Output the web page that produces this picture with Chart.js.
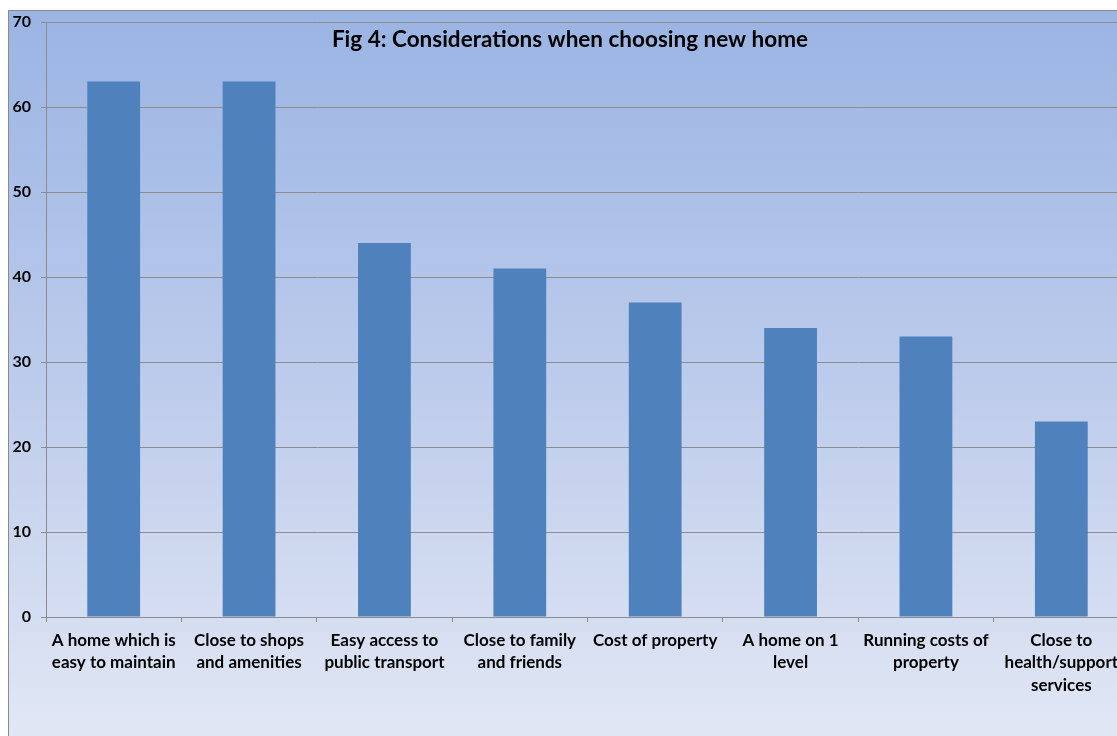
<!DOCTYPE html>
<html>
<head>
<meta charset="utf-8">
<script src="https://cdn.jsdelivr.net/npm/chart.js@4"></script>
<style>
  html, body { margin: 0; padding: 0; background: #fff; overflow: hidden; }
  #frame {
    position: absolute; left: 8px; top: 10px;
    border-left: 1px solid #8a8a8a; border-top: 1px solid #8a8a8a;
  }
  canvas { display: block; }
</style>
</head>
<body>
<div id="frame"><canvas id="homeChart" width="1130" height="725"></canvas></div>
<script>
// Data
const categories = [
    ["A home which is", "easy to maintain"],
    ["Close to shops", "and amenities"],
    ["Easy access to", "public transport"],
    ["Close to family", "and friends"],
    ["Cost of property"],
    ["A home on 1", "level"],
    ["Running costs of", "property"],
    ["Close to", "health/support", "services"]
];
const responses = [63, 63, 44, 41, 37, 34, 33, 23];
const yTicks = [0, 10, 20, 30, 40, 50, 60, 70];
const titleText = "Fig 4: Considerations when choosing new home";

const gridColor = "#8c8c8c";
const tickFont = { family: "Lato", size: 17, weight: "bold", lineHeight: 1.32 };

// Gradient background + title drawn inside the plot
const backdrop = {
    id: "backdrop",
    beforeDraw(chart) {
        const ctx = chart.ctx;
        const g = ctx.createLinearGradient(0, 0, 0, chart.height);
        g.addColorStop(0, "#9ab4e3");
        g.addColorStop(0.5, "#bccbeb");
        g.addColorStop(1, "#e1e7f4");
        ctx.save();
        ctx.fillStyle = g;
        ctx.fillRect(0, 0, chart.width, chart.height);
        ctx.restore();
    },
    afterDraw(chart) {
        const ctx = chart.ctx;
        ctx.save();
        ctx.fillStyle = "#000";
        ctx.font = "bold 22.5px Lato";
        ctx.textAlign = "center";
        ctx.textBaseline = "middle";
        ctx.fillText(titleText, 561, 29);
        ctx.restore();
    }
};

new Chart(document.getElementById("homeChart").getContext("2d"), {
    type: "bar",
    data: {
        labels: categories,
        datasets: [{
            data: responses,
            backgroundColor: "#4f81bd",
            borderWidth: 0,
            categoryPercentage: 1,
            barPercentage: 0.39
        }]
    },
    options: {
        responsive: false,
        animation: false,
        layout: { padding: { top: 11, right: 10, left: 0, bottom: 0 } },
        plugins: {
            legend: { display: false },
            title: { display: false },
            tooltip: { enabled: false }
        },
        scales: {
            x: {
                offset: true,
                afterFit(scale) {
                    scale.height = 119;
                    scale.paddingLeft = 0;
                    scale.paddingRight = 0;
                },
                grid: {
                    offset: true,
                    drawOnChartArea: false,
                    drawTicks: true,
                    tickLength: 5,
                    color: gridColor
                },
                border: { color: gridColor },
                ticks: {
                    color: "#000",
                    font: tickFont,
                    maxRotation: 0,
                    autoSkip: false,
                    padding: 7
                }
            },
            y: {
                min: 0,
                max: 70,
                afterFit(scale) {
                    scale.width = 37;
                    scale.paddingTop = 0;
                    scale.paddingBottom = 0;
                },
                afterBuildTicks(scale) { scale.ticks = yTicks.map(v => ({ value: v })); },
                grid: { color: gridColor, tickLength: 5 },
                border: { color: gridColor },
                ticks: {
                    color: "#000",
                    font: { family: "Lato", size: 16, weight: "bold" },
                    padding: 10
                }
            }
        }
    },
    plugins: [backdrop]
});
</script>
</body>
</html>
